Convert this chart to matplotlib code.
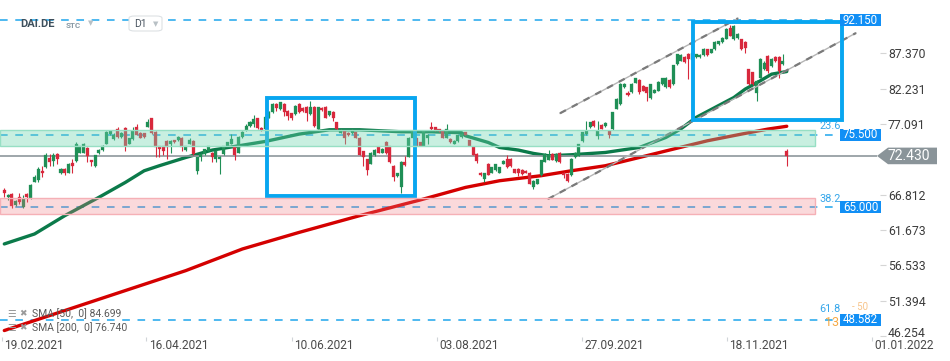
import matplotlib
matplotlib.use('Agg')
import matplotlib.pyplot as plt
import numpy as np
from matplotlib.patches import Rectangle, Polygon, FancyBboxPatch
import matplotlib.transforms as mtransforms

plt.rcParams['font.family'] = ['Roboto', 'DejaVu Sans']

# ---------------- data (daily candles, DAI.DE) ----------------
opens = [67.5, 66.4, 66.9, 65.3, 66.4, 65.0, 66.9, 66.3, 68.7, 68.9,
         70.3, 70.8, 72.1, 71.7, 72.7, 69.9, 70.5, 70.0, 71.4, 71.7,
         72.9, 72.9, 73.6, 71.8, 70.9, 72.8, 73.3, 74.2, 75.6, 74.9,
         76.3, 75.2, 76.5, 74.2, 74.9, 76.7, 75.8, 75.7, 76.7, 77.9,
         75.9, 73.8, 73.8, 74.6, 74.2, 74.7, 74.7, 75.1, 73.3, 74.2,
         74.6, 70.3, 72.2, 72.7, 73.2, 72.9, 72.0, 72.0, 72.7, 73.9,
         74.2, 73.7, 72.9, 75.2, 76.2, 76.8, 77.1, 77.9, 76.5, 76.3,
         78.0, 78.75, 80.0, 79.2, 80.0, 79.0, 78.6, 78.5, 79.96, 79.4,
         79.6, 78.5, 79.6, 76.4, 79.4, 79.6, 78.4, 78.75, 77.3, 75.8,
         76.1, 75.8, 75.7, 75.85, 75.1, 73.1, 71.97, 71.3, 72.5, 73.66,
         72.9, 74.5, 73.8, 71.0, 69.5, 67.9, 71.6, 72.3, 75.1, 75.1,
         74.4, 73.9, 75.0, 76.6, 76.6, 76.3, 76.0, 75.1, 74.9, 74.2,
         74.6, 75.2, 75.85, 74.7, 73.76, 72.7, 70.0, 69.1, 71.3, 70.0,
         70.4, 70.0, 71.25, 71.97, 72.0, 70.5, 70.6, 70.4, 70.3, 70.0,
         67.95, 68.4, 69.6, 71.6, 71.9, 72.7, 71.7, 72.9, 70.0, 69.8,
         69.6, 72.2, 72.45, 74.6, 75.6, 76.6, 77.5, 75.3, 76.9, 76.8,
         76.1, 76.3, 79.3, 79.96, 82.4, 81.65, 81.75, 83.1, 83.49, 82.62,
         82.38, 80.78, 81.65, 81.89, 82.86, 82.38, 83.49, 82.86, 85.77, 86.25,
         86.88, 87.22, 86.35, 86.74, 86.74, 87.08, 87.95, 87.46, 87.95, 88.67,
         89.01, 89.5, 91.09, 89.4, 89.64, 89.4, 89.01, 85.0, 84.56, 81.65,
         83.83, 85.04, 86.98, 85.53, 86.74, 86.74, 85.77, 73.2]
highs = [67.7, 66.9, 67.1, 66.0, 67.0, 66.7, 67.0, 68.3, 69.7, 70.8,
         71.0, 72.9, 72.7, 72.9, 72.9, 70.7, 70.7, 71.4, 72.0, 74.4,
         73.9, 74.3, 73.7, 71.9, 72.6, 73.4, 74.0, 76.0, 76.2, 75.8,
         76.6, 75.9, 76.6, 75.1, 76.6, 77.0, 75.9, 75.8, 77.8, 78.0,
         76.0, 73.9, 73.9, 74.7, 74.7, 74.8, 75.3, 75.2, 73.9, 75.1,
         74.7, 72.3, 72.8, 73.5, 73.9, 73.0, 73.3, 72.4, 73.9, 74.5,
         75.6, 73.8, 75.3, 76.0, 77.0, 77.5, 78.4, 78.0, 76.6, 78.2,
         78.9, 80.1, 80.1, 80.3, 80.1, 79.1, 78.7, 79.8, 80.1, 79.5,
         79.7, 80.4, 79.7, 79.6, 79.5, 79.7, 79.0, 79.0, 77.4, 76.3,
         76.2, 75.9, 76.3, 75.9, 75.2, 73.2, 72.0, 73.0, 73.4, 73.7,
         73.6, 74.6, 73.9, 71.1, 70.0, 71.7, 72.4, 75.2, 76.2, 75.2,
         74.5, 76.2, 75.6, 77.4, 76.7, 76.4, 76.1, 77.0, 75.0, 74.7,
         75.5, 75.7, 75.9, 74.8, 73.8, 72.8, 70.1, 70.0, 71.4, 70.8,
         71.3, 70.8, 71.8, 72.6, 72.1, 70.6, 70.7, 70.5, 70.4, 70.1,
         68.9, 69.1, 71.9, 72.8, 73.3, 72.8, 72.8, 73.0, 70.1, 69.9,
         72.1, 73.0, 74.2, 75.9, 77.5, 77.4, 77.6, 77.5, 77.0, 77.3,
         76.2, 78.8, 80.8, 83.0, 83.0, 81.8, 83.0, 83.8, 83.6, 82.7,
         82.5, 82.9, 82.1, 83.3, 83.8, 83.9, 83.6, 85.7, 87.3, 87.2,
         87.0, 87.4, 87.5, 87.3, 87.2, 88.1, 88.0, 88.0, 89.1, 89.2,
         89.7, 91.0, 91.5, 91.5, 90.3, 89.5, 89.1, 85.1, 84.7, 83.5,
         86.6, 86.2, 87.1, 86.6, 86.9, 86.9, 87.22, 73.5]
lows = [66.5, 66.0, 64.8, 65.1, 65.5, 64.9, 65.7, 66.2, 68.6, 68.7,
        69.4, 70.7, 70.9, 71.0, 71.2, 69.8, 69.7, 69.9, 69.9, 71.6,
        72.8, 72.8, 71.6, 71.0, 70.8, 72.7, 73.2, 74.1, 75.5, 74.7,
        75.1, 75.1, 73.2, 74.1, 74.8, 75.4, 75.0, 75.0, 76.6, 75.6,
        72.2, 72.3, 72.6, 72.0, 72.8, 74.3, 74.6, 73.1, 73.2, 74.1,
        72.6, 69.8, 71.7, 72.6, 73.1, 71.5, 71.5, 69.8, 72.6, 73.8,
        74.1, 71.9, 72.8, 75.1, 76.1, 76.7, 76.6, 76.4, 76.1, 76.2,
        77.9, 78.7, 79.0, 79.1, 78.3, 77.6, 77.6, 78.4, 78.7, 78.8,
        77.5, 78.4, 76.7, 76.3, 79.0, 77.9, 78.3, 77.5, 76.2, 75.7,
        74.1, 75.3, 75.6, 75.0, 72.5, 71.0, 69.7, 71.2, 72.4, 72.8,
        72.8, 72.7, 71.4, 68.8, 69.4, 67.1, 71.0, 72.2, 75.0, 73.8,
        73.8, 73.8, 74.2, 76.2, 76.1, 75.9, 75.0, 75.0, 74.3, 74.1,
        74.5, 75.1, 75.4, 73.8, 72.5, 71.4, 69.5, 68.6, 69.6, 69.9,
        70.3, 69.9, 71.2, 70.7, 70.8, 69.9, 69.5, 69.7, 69.9, 68.3,
        67.6, 68.3, 69.5, 71.5, 71.8, 71.8, 71.6, 71.4, 69.2, 68.7,
        69.5, 72.1, 72.4, 74.5, 75.5, 76.5, 76.7, 74.9, 76.3, 76.7,
        75.0, 76.2, 79.2, 79.9, 82.3, 81.1, 81.6, 83.0, 81.4, 81.8,
        80.44, 80.7, 81.6, 81.8, 82.8, 82.3, 82.3, 82.8, 85.7, 86.2,
        86.0, 83.6, 86.3, 86.6, 86.6, 87.0, 87.0, 87.4, 87.9, 88.6,
        88.9, 89.4, 89.8, 89.3, 89.5, 87.9, 87.4, 82.7, 82.7, 80.44,
        83.7, 84.9, 84.5, 85.4, 86.1, 83.73, 85.6, 71.0]
closes = [67.0, 66.75, 65.2, 65.9, 65.7, 66.1, 66.4, 68.2, 69.4, 70.5,
          69.9, 72.5, 71.6, 72.6, 72.0, 70.6, 69.9, 71.3, 71.0, 74.2,
          73.8, 74.2, 72.4, 71.5, 72.5, 73.3, 73.8, 75.9, 76.1, 75.5,
          75.2, 75.7, 73.9, 75.0, 76.0, 75.5, 75.1, 75.2, 77.4, 75.7,
          73.7, 73.4, 73.2, 73.7, 74.6, 74.4, 75.2, 73.7, 73.8, 74.7,
          72.7, 72.2, 72.7, 73.4, 73.8, 72.2, 73.2, 72.3, 73.8, 74.4,
          74.9, 72.5, 75.2, 75.85, 76.8, 77.4, 77.8, 76.5, 76.2, 78.1,
          78.75, 80.05, 79.4, 80.2, 78.75, 78.2, 77.9, 79.7, 78.75, 78.9,
          78.6, 79.5, 76.8, 79.5, 79.1, 78.0, 78.9, 77.9, 76.3, 76.0,
          75.1, 75.4, 76.2, 75.1, 72.6, 72.2, 70.4, 72.9, 73.3, 72.9,
          73.5, 72.8, 71.5, 69.3, 69.9, 71.6, 71.1, 75.1, 76.1, 73.9,
          73.9, 76.1, 75.5, 76.3, 76.2, 76.0, 75.1, 76.3, 74.4, 74.6,
          75.4, 75.6, 75.5, 73.9, 72.6, 71.7, 69.6, 69.9, 69.7, 70.75,
          71.25, 70.75, 71.7, 70.75, 70.9, 70.0, 70.0, 69.8, 70.0, 68.4,
          68.8, 69.07, 71.8, 72.7, 72.6, 71.9, 72.7, 71.5, 69.7, 68.8,
          72.0, 72.9, 74.15, 75.85, 76.1, 77.3, 76.8, 76.1, 76.4, 77.2,
          75.4, 78.75, 80.7, 82.9, 82.86, 81.27, 82.86, 83.69, 81.75, 81.89,
          81.56, 82.86, 82.04, 83.2, 83.69, 83.78, 82.38, 85.62, 87.22, 87.08,
          86.11, 86.59, 87.37, 87.22, 87.08, 88.04, 87.08, 87.95, 89.01, 89.16,
          89.64, 90.95, 89.88, 91.33, 90.13, 87.95, 88.19, 82.86, 82.86, 83.35,
          86.49, 86.01, 84.8, 86.49, 86.25, 84.8, 86.25, 72.43]

# moving averages (bar index, value)
sma50_idx = [0, 8, 16, 25, 32, 37, 41, 48, 55, 62, 69, 78, 86, 94, 105, 113, 121,
             122, 128, 131, 136, 140, 144, 150, 159, 168, 175, 179, 183, 188, 193,
             196, 200, 203, 207]
sma50_val = [59.63, 61.08, 63.74, 66.40, 68.57, 70.27, 71.0, 72.2, 73.28, 73.9,
             74.53, 75.6, 76.23, 76.23, 75.94, 75.94, 75.8, 75.36, 74.39, 73.66,
             73.28, 72.79, 72.45, 72.6, 72.93, 73.66, 75.11, 76.37, 78.02, 79.47,
             80.92, 82.14, 83.35, 84.32, 84.70]
sma200_idx = [0, 32, 48, 63, 78, 94, 110, 122, 131, 142, 150, 159, 168, 177, 186,
              195, 202, 207]
sma200_val = [47.04, 52.85, 55.75, 58.9, 61.31, 63.74, 66.02, 67.85, 68.82, 69.55,
              70.27, 71.0, 72.2, 73.42, 74.63, 75.6, 76.33, 76.74]

level_values = [92.150, 75.500, 65.000, 48.582]
level_labels = ['92.150', '75.500', '65.000', '48.582']
fib_labels = ['23.6', '38.2', '61.8']
fib_values = [75.5, 65.0, 48.582]
green_zone = (73.9, 76.25)
red_zone = (63.95, 66.25)
last_price = 72.430
y_ticks = [87.370, 82.231, 77.091, 66.812, 61.673, 56.533, 51.394, 46.254]
x_tick_labels = ['19.02.2021', '16.04.2021', '10.06.2021', '03.08.2021',
                 '27.09.2021', '18.11.2021', '01.01.2022']
x_tick_pos = [-0.7, 37.6, 76.0, 114.4, 152.8, 191.2, 229.6]
legend_lines = ['SMA [50,  0] 84.699', 'SMA [200,  0] 76.740']

# ---------------- styling ----------------
GREEN = '#1f8f56'
RED = '#d8283c'
SMA50_C = '#0b7a4a'
SMA200_C = '#d40000'
BLUE_DASH = '#1ea5ec'
BOX_BLUE = '#08a6f0'
LABEL_BLUE = '#118ff5'

fig = plt.figure(figsize=(9.5, 3.61), dpi=100)
AX_H = 337
ax = fig.add_axes([0, 1 - AX_H / 361, 880 / 950, AX_H / 361])

X0, DX = 4.3, 3.78
def px2x(px):
    return (px - X0) / DX

YTOP, YBOT = 95.1, 46.1
PXU = AX_H / (YTOP - YBOT)
def py2v(py):
    return YTOP - py / PXU

ax.set_xlim(px2x(0), px2x(880))
ax.set_ylim(YBOT, YTOP)
for s in ax.spines.values():
    s.set_visible(False)

# dashed levels
for v in level_values:
    ax.hlines(v, px2x(0), px2x(840), colors=BLUE_DASH, linestyles=(0, (5, 5)),
              lw=1.1, zorder=1)

# moving averages
ax.plot(sma200_idx, sma200_val, color=SMA200_C, lw=2.4, zorder=2,
        solid_capstyle='round', solid_joinstyle='round')
ax.plot(sma50_idx, sma50_val, color=SMA50_C, lw=2.4, zorder=2,
        solid_capstyle='round', solid_joinstyle='round')

# candles
o = np.array(opens); h = np.array(highs); l = np.array(lows); c = np.array(closes)
idx = np.arange(len(o))
cols = np.where(c >= o, GREEN, RED)
ax.vlines(idx, l, h, colors=cols, lw=0.8, zorder=3)
lo = np.minimum(o, c)
hh = np.maximum(np.abs(c - o), 0.12)
ax.bar(idx, hh, bottom=lo, width=0.8, color=cols, edgecolor=cols, lw=0.2, zorder=3)

# current price line
ax.hlines(last_price, px2x(0), px2x(877), colors='#8d979c', lw=1.2, zorder=2.5)

# channel lines
chan_upper = [(px2x(560), py2v(113.3)), (px2x(738), py2v(18.3))]
chan_lower = [(px2x(548), py2v(199)), (px2x(856), py2v(33))]
for seg in (chan_upper, chan_lower):
    xs = [p[0] for p in seg]; ys = [p[1] for p in seg]
    ax.plot(xs, ys, color='#b5b5b5', lw=1.0, zorder=4)
    ax.plot(xs, ys, color='#7a7a7a', lw=1.6, zorder=4, linestyle=(0, (3, 3)))

# blue boxes
boxes = [((px2x(267), py2v(196)), px2x(415) - px2x(267), py2v(98) - py2v(196)),
         ((px2x(693), py2v(120)), px2x(842) - px2x(693), py2v(22) - py2v(120))]
for (xy, w, hgt) in boxes:
    ax.add_patch(Rectangle(xy, w, hgt, fill=False, edgecolor=BOX_BLUE, lw=2.8,
                           zorder=5))

# zones (semi-transparent, on top)
zx0, zx1 = px2x(0), px2x(815)
ax.add_patch(Rectangle((zx0, green_zone[0]), zx1 - zx0, green_zone[1] - green_zone[0],
                       facecolor='#6fd6b0', alpha=0.38, edgecolor='none', zorder=6))
ax.add_patch(Rectangle((zx0, green_zone[0]), zx1 - zx0, green_zone[1] - green_zone[0],
                       facecolor='none', edgecolor='#97dfc4', lw=1.0, zorder=6))
ax.add_patch(Rectangle((zx0, red_zone[0]), zx1 - zx0, red_zone[1] - red_zone[0],
                       facecolor='#f07880', alpha=0.28, edgecolor='none', zorder=6))
ax.add_patch(Rectangle((zx0, red_zone[0]), zx1 - zx0, red_zone[1] - red_zone[0],
                       facecolor='none', edgecolor='#f5b0b6', lw=1.0, zorder=6))

# fib labels
fib_py_off = [8.5, 8.5, 10.5]
for lab, v, off in zip(fib_labels, fib_values, fib_py_off):
    ax.text(px2x(819), v + off / PXU, lab, color='#35a6ea', fontsize=7.8,
            ha='left', va='center', zorder=7)
ax.text(px2x(825), py2v(322.5), '13', color='#f5a030', fontsize=9, ha='left',
        va='center', zorder=6.5, alpha=0.9)
ax.text(px2x(852), py2v(307), '- 50', color='#f7c48a', fontsize=7, ha='left',
        va='center', zorder=6.5)

# level label boxes
bh = 12 / PXU
for v, lab in zip(level_values, level_labels):
    ax.add_patch(Rectangle((px2x(840), v - bh / 2), px2x(881) - px2x(840), bh,
                           facecolor=LABEL_BLUE, edgecolor='none', zorder=8,
                           clip_on=False))
    ax.text(px2x(860.5), v, lab, color='white', fontsize=8.3, ha='center',
            va='center', zorder=9, clip_on=False)

# last price label (arrow)
hh2 = 8.3 / PXU
poly = Polygon([(px2x(877), last_price), (px2x(888), last_price + hh2),
                (px2x(937), last_price + hh2), (px2x(937), last_price - hh2),
                (px2x(888), last_price - hh2)], closed=True,
               facecolor='#8a9499', edgecolor='none', zorder=8, clip_on=False)
ax.add_patch(poly)
ax.text(px2x(909), last_price, f'{last_price:.3f}', color='white', fontsize=10,
        ha='center', va='center', zorder=9, clip_on=False)

# y axis (right)
ax.yaxis.tick_right()
ax.set_yticks(y_ticks)
ax.set_yticklabels([f'{t:.3f}' for t in y_ticks])
ax.tick_params(axis='y', length=4.5, width=0.8, color='#d5d5d5', pad=1.2,
               labelsize=8.8, labelcolor='#3c3c3c')
ylabs = ax.get_yticklabels()
ylabs[-1].set_transform(ylabs[-1].get_transform() +
                        mtransforms.ScaledTranslation(0, 4 / 100, fig.dpi_scale_trans))

# x axis
ax.set_xticks(x_tick_pos)
ax.set_xticklabels(x_tick_labels)
ax.tick_params(axis='x', length=3, width=0.8, color='#d0d4d8', pad=-1.5,
               labelsize=8.6, labelcolor='#4a4a4a')
off = mtransforms.ScaledTranslation(2.5 / 100, 0, fig.dpi_scale_trans)
for t in ax.get_xticklabels():
    t.set_ha('left')
    t.set_transform(t.get_transform() + off)

# header
fig.text(20 / 950, 1 - 24 / 361, 'DAI.DE', fontsize=8, color='#3d4f5c',
         fontweight='bold', ha='left', va='center')
fig.text(66 / 950, 1 - 25 / 361, 'STC', fontsize=5.8, color='#8a9aa5',
         fontweight='bold', ha='left', va='center')
fig.text(88 / 950, 1 - 23 / 361, '\u25BC', fontsize=5, color='#b8c0c5',
         ha='left', va='center', family=['DejaVu Sans'])
fig.patches.append(FancyBboxPatch((129 / 950, 1 - 31 / 361), 33 / 950, 15 / 361,
                                  boxstyle='round,pad=0,rounding_size=0.006',
                                  transform=fig.transFigure, facecolor='white',
                                  edgecolor='#dde1e4', lw=0.8, zorder=0.5))
fig.text(134 / 950, 1 - 24 / 361, 'D1', fontsize=7.5, color='#4a5560',
         ha='left', va='center')
fig.text(153 / 950, 1 - 24 / 361, '\u25BC', fontsize=5, color='#b8c0c5',
         ha='left', va='center', family=['DejaVu Sans'])

# SMA legend (bottom-left)
for k, txt in enumerate(legend_lines):
    yy = 1 - (314 + 14 * k) / 361
    fig.text(7 / 950, yy, '\u2630', fontsize=7, color='#9a9a9a', ha='left',
             va='center', family=['DejaVu Sans'])
    fig.text(19 / 950, yy, '\u2716', fontsize=6.5, color='#9a9a9a', ha='left',
             va='center', family=['DejaVu Sans'])
    fig.text(32 / 950, yy, txt, fontsize=7.5, color='#5a5a5a', ha='left',
             va='center')

fig.savefig('out.png', dpi=100)
